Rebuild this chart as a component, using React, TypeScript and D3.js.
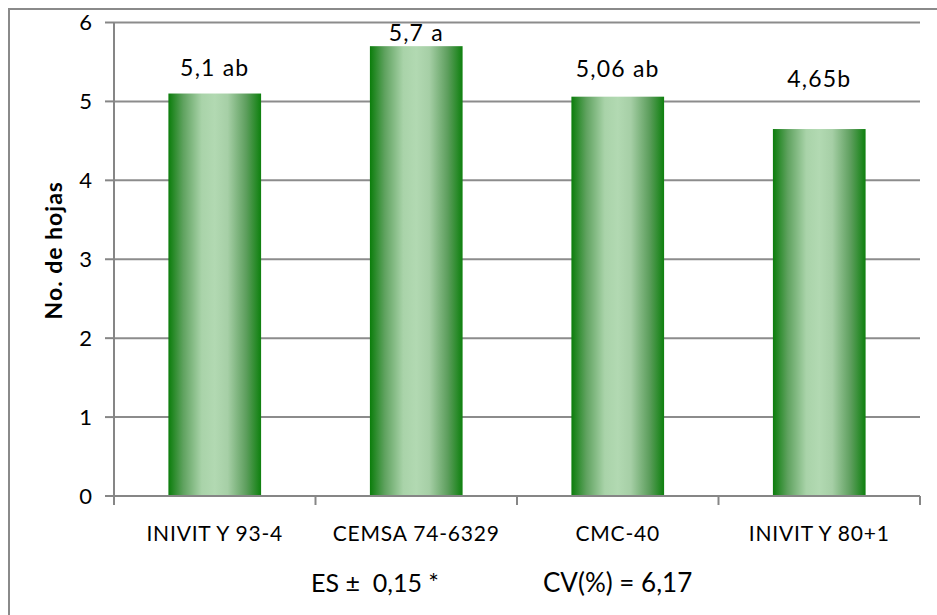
import React from "react";
import * as d3 from "d3";

// Leaf count per cultivar
const cultivars = ["INIVIT Y 93-4", "CEMSA 74-6329", "CMC-40", "INIVIT Y 80+1"];
const leaves = [5.1, 5.7, 5.06, 4.65];
const valueLabels = ["5,1 ab", "5,7 a", "5,06 ab", "4,65b"];
// vertical gap (px) between each bar top and its label baseline
const labelLift = [18, 5, 20, 42];
const yTicks = [0, 1, 2, 3, 4, 5, 6];
const yTitle = "No. de hojas";
const footnotes = ["ES ±  0,15 *", "CV(%) = 6,17"];

const W = 937;
const H = 615;
const margin = { left: 114, right: 17, top: 22.5, bottom: 119 };
const FONT = "Lato, 'Open Sans', sans-serif";

export default function App() {
  const x = d3
    .scaleBand<string>()
    .domain(cultivars)
    .range([margin.left, W - margin.right])
    .paddingInner(0.54)
    .paddingOuter(0.27);
  const y = d3
    .scaleLinear()
    .domain([0, 6])
    .range([H - margin.bottom, margin.top]);

  const x0 = margin.left;
  const x1 = W - margin.right;
  const y0 = y(0);
  const edges = d3.range(cultivars.length + 1).map((i) => x0 + i * ((x1 - x0) / cultivars.length));

  return (
    <svg
      width={W}
      height={H}
      style={{ position: "absolute", left: 0, top: 0, background: "#fff" }}
      fontFamily={FONT}
    >
      <defs>
        <linearGradient id="barFill" x1="0" x2="1" y1="0" y2="0">
          <stop offset="0%" stopColor="#0b7d0b" />
          <stop offset="16%" stopColor="#5fa25f" />
          <stop offset="36%" stopColor="#a9d3a9" />
          <stop offset="50%" stopColor="#b2d9b2" />
          <stop offset="64%" stopColor="#a6cfa6" />
          <stop offset="84%" stopColor="#5d9e5d" />
          <stop offset="100%" stopColor="#0e800e" />
        </linearGradient>
      </defs>

      {/* chart frame */}
      <rect x={9} y={9} width={W + 20} height={H + 20} fill="none" stroke="#8a8a8a" strokeWidth={2} />

      {/* gridlines */}
      {yTicks.slice(1).map((t) => (
        <line key={t} x1={x0} x2={x1} y1={y(t)} y2={y(t)} stroke="#8c8c8c" strokeWidth={2} />
      ))}

      {/* bars */}
      {cultivars.map((c, i) => (
        <rect
          key={c}
          x={x(c)}
          y={y(leaves[i])}
          width={x.bandwidth()}
          height={y0 - y(leaves[i])}
          fill="url(#barFill)"
        />
      ))}

      {/* y axis */}
      <line x1={x0} x2={x0} y1={y(6)} y2={y0} stroke="#868686" strokeWidth={2} />
      {yTicks.map((t) => (
        <g key={t}>
          <line x1={x0 - 9} x2={x0} y1={y(t)} y2={y(t)} stroke="#868686" strokeWidth={2} />
          <text x={92} y={y(t)} dy="0.36em" textAnchor="end" fontSize={22} fill="#000">
            {t}
          </text>
        </g>
      ))}

      {/* x axis */}
      <line x1={x0} x2={x1} y1={y0} y2={y0} stroke="#868686" strokeWidth={2} />
      {edges.map((e, i) => (
        <line key={i} x1={e} x2={e} y1={y0} y2={y0 + 9} stroke="#868686" strokeWidth={2} />
      ))}
      {cultivars.map((c) => (
        <text
          key={c}
          x={(x(c) ?? 0) + x.bandwidth() / 2}
          y={541}
          textAnchor="middle"
          fontSize={21}
          letterSpacing={0.8}
          fill="#000"
        >
          {c}
        </text>
      ))}

      {/* value labels */}
      {cultivars.map((c, i) => (
        <text
          key={c}
          x={(x(c) ?? 0) + x.bandwidth() / 2}
          y={y(leaves[i]) - labelLift[i]}
          textAnchor="middle"
          fontSize={23}
          letterSpacing={1.2}
          fill="#000"
        >
          {valueLabels[i]}
        </text>
      ))}

      {/* y axis title */}
      <text
        transform={`translate(62, ${(y(0) + y(6)) / 2 - 9}) rotate(-90)`}
        textAnchor="middle"
        fontSize={23}
        fontWeight="bold"
        letterSpacing={1}
        fill="#000"
      >
        {yTitle}
      </text>

      {/* footnotes */}
      <text x={311} y={592} fontSize={25} fill="#000" xmlSpace="preserve">
        {footnotes[0]}
      </text>
      <text x={543} y={592} fontSize={26} fill="#000">
        {footnotes[1]}
      </text>
    </svg>
  );
}
